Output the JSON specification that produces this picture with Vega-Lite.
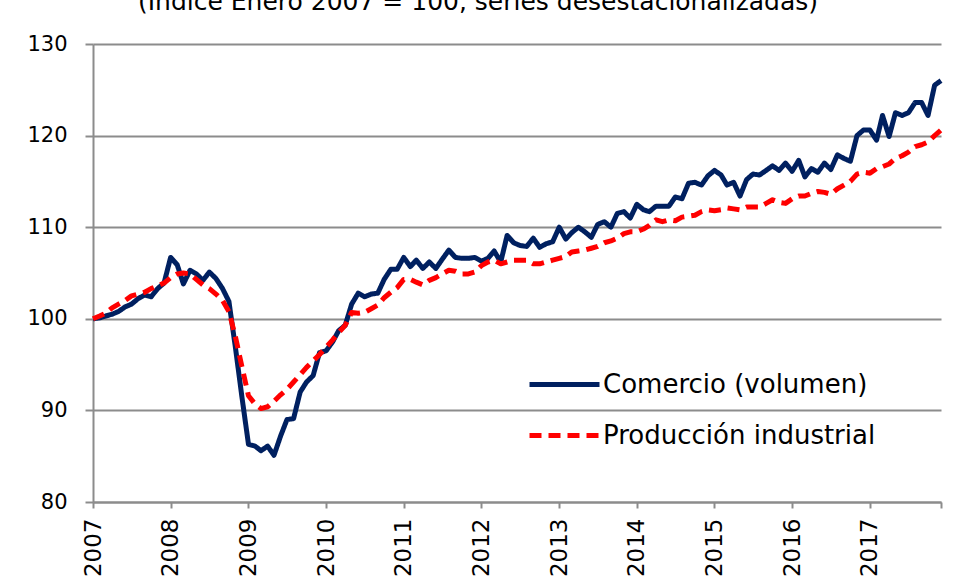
{
  "$schema": "https://vega.github.io/schema/vega-lite/v6.json",
  "width": 848,
  "height": 458,
  "autosize": {"type": "none"},
  "padding": {"left": 93, "top": 44, "right": 16, "bottom": 82},
  "background": "white",
  "title": {
    "text": "(Índice Enero 2007 = 100, series desestacionalizadas)",
    "anchor": "middle",
    "baseline": "alphabetic",
    "offset": -2,
    "dx": -39,
    "font": "DejaVu Sans",
    "fontSize": 25,
    "fontWeight": "normal",
    "color": "#000000"
  },
  "config": {
    "view": {"stroke": null},
    "font": "DejaVu Sans"
  },
  "data": {
    "values": [
      {"d":"2007-01-01","c":100.0,"p":100.0},{"d":"2007-02-01","c":100.1,"p":100.3},{"d":"2007-03-01","c":100.3,"p":100.6},{"d":"2007-04-01","c":100.5,"p":101.2},{"d":"2007-05-01","c":100.8,"p":101.6},{"d":"2007-06-01","c":101.3,"p":102.0},{"d":"2007-07-01","c":101.6,"p":102.5},{"d":"2007-08-01","c":102.2,"p":102.7},{"d":"2007-09-01","c":102.6,"p":102.9},{"d":"2007-10-01","c":102.4,"p":103.3},{"d":"2007-11-01","c":103.3,"p":103.6},{"d":"2007-12-01","c":103.9,"p":103.9},
      {"d":"2008-01-01","c":106.7,"p":104.5},{"d":"2008-02-01","c":105.9,"p":104.9},{"d":"2008-03-01","c":103.8,"p":105.0},{"d":"2008-04-01","c":105.3,"p":104.9},{"d":"2008-05-01","c":104.9,"p":104.3},{"d":"2008-06-01","c":104.2,"p":103.7},{"d":"2008-07-01","c":105.1,"p":103.3},{"d":"2008-08-01","c":104.4,"p":102.7},{"d":"2008-09-01","c":103.3,"p":102.0},{"d":"2008-10-01","c":101.9,"p":100.8},{"d":"2008-11-01","c":96.8,"p":98.0},{"d":"2008-12-01","c":91.5,"p":94.8},
      {"d":"2009-01-01","c":86.3,"p":91.6},{"d":"2009-02-01","c":86.1,"p":90.7},{"d":"2009-03-01","c":85.6,"p":90.2},{"d":"2009-04-01","c":86.1,"p":90.4},{"d":"2009-05-01","c":85.1,"p":91.0},{"d":"2009-06-01","c":87.2,"p":91.7},{"d":"2009-07-01","c":89.0,"p":92.3},{"d":"2009-08-01","c":89.1,"p":93.1},{"d":"2009-09-01","c":92.0,"p":93.9},{"d":"2009-10-01","c":93.1,"p":94.7},{"d":"2009-11-01","c":93.8,"p":95.4},{"d":"2009-12-01","c":96.3,"p":96.1},
      {"d":"2010-01-01","c":96.5,"p":96.9},{"d":"2010-02-01","c":97.5,"p":97.7},{"d":"2010-03-01","c":98.7,"p":98.5},{"d":"2010-04-01","c":99.3,"p":99.3},{"d":"2010-05-01","c":101.6,"p":100.7},{"d":"2010-06-01","c":102.8,"p":100.6},{"d":"2010-07-01","c":102.4,"p":100.7},{"d":"2010-08-01","c":102.7,"p":101.1},{"d":"2010-09-01","c":102.8,"p":101.5},{"d":"2010-10-01","c":104.3,"p":102.3},{"d":"2010-11-01","c":105.4,"p":102.9},{"d":"2010-12-01","c":105.4,"p":103.4},
      {"d":"2011-01-01","c":106.7,"p":104.3},{"d":"2011-02-01","c":105.7,"p":104.3},{"d":"2011-03-01","c":106.4,"p":104.0},{"d":"2011-04-01","c":105.5,"p":103.7},{"d":"2011-05-01","c":106.2,"p":104.2},{"d":"2011-06-01","c":105.5,"p":104.5},{"d":"2011-07-01","c":106.5,"p":104.9},{"d":"2011-08-01","c":107.5,"p":105.3},{"d":"2011-09-01","c":106.7,"p":105.2},{"d":"2011-10-01","c":106.6,"p":104.9},{"d":"2011-11-01","c":106.6,"p":104.9},{"d":"2011-12-01","c":106.7,"p":105.1},
      {"d":"2012-01-01","c":106.3,"p":105.8},{"d":"2012-02-01","c":106.6,"p":106.2},{"d":"2012-03-01","c":107.4,"p":106.4},{"d":"2012-04-01","c":106.2,"p":106.0},{"d":"2012-05-01","c":109.1,"p":106.2},{"d":"2012-06-01","c":108.3,"p":106.4},{"d":"2012-07-01","c":108.0,"p":106.4},{"d":"2012-08-01","c":107.9,"p":106.4},{"d":"2012-09-01","c":108.8,"p":106.0},{"d":"2012-10-01","c":107.8,"p":106.0},{"d":"2012-11-01","c":108.2,"p":106.2},{"d":"2012-12-01","c":108.4,"p":106.4},
      {"d":"2013-01-01","c":110.0,"p":106.6},{"d":"2013-02-01","c":108.7,"p":106.8},{"d":"2013-03-01","c":109.4,"p":107.3},{"d":"2013-04-01","c":110.0,"p":107.4},{"d":"2013-05-01","c":109.5,"p":107.5},{"d":"2013-06-01","c":108.9,"p":107.7},{"d":"2013-07-01","c":110.3,"p":107.9},{"d":"2013-08-01","c":110.6,"p":108.3},{"d":"2013-09-01","c":110.0,"p":108.5},{"d":"2013-10-01","c":111.5,"p":108.8},{"d":"2013-11-01","c":111.7,"p":109.3},{"d":"2013-12-01","c":111.0,"p":109.5},
      {"d":"2014-01-01","c":112.5,"p":109.5},{"d":"2014-02-01","c":111.9,"p":109.8},{"d":"2014-03-01","c":111.7,"p":110.2},{"d":"2014-04-01","c":112.3,"p":110.8},{"d":"2014-05-01","c":112.3,"p":110.6},{"d":"2014-06-01","c":112.3,"p":110.8},{"d":"2014-07-01","c":113.3,"p":110.7},{"d":"2014-08-01","c":113.1,"p":111.1},{"d":"2014-09-01","c":114.8,"p":111.2},{"d":"2014-10-01","c":114.9,"p":111.3},{"d":"2014-11-01","c":114.6,"p":111.7},{"d":"2014-12-01","c":115.6,"p":111.9},
      {"d":"2015-01-01","c":116.2,"p":111.8},{"d":"2015-02-01","c":115.7,"p":111.9},{"d":"2015-03-01","c":114.6,"p":112.1},{"d":"2015-04-01","c":114.9,"p":112.0},{"d":"2015-05-01","c":113.4,"p":111.9},{"d":"2015-06-01","c":115.2,"p":112.2},{"d":"2015-07-01","c":115.8,"p":112.2},{"d":"2015-08-01","c":115.7,"p":112.2},{"d":"2015-09-01","c":116.2,"p":112.6},{"d":"2015-10-01","c":116.7,"p":113.0},{"d":"2015-11-01","c":116.2,"p":112.7},{"d":"2015-12-01","c":117.0,"p":112.6},
      {"d":"2016-01-01","c":116.1,"p":113.1},{"d":"2016-02-01","c":117.3,"p":113.4},{"d":"2016-03-01","c":115.5,"p":113.4},{"d":"2016-04-01","c":116.4,"p":113.7},{"d":"2016-05-01","c":116.0,"p":113.9},{"d":"2016-06-01","c":117.0,"p":113.8},{"d":"2016-07-01","c":116.3,"p":113.6},{"d":"2016-08-01","c":117.9,"p":114.2},{"d":"2016-09-01","c":117.5,"p":114.6},{"d":"2016-10-01","c":117.2,"p":115.0},{"d":"2016-11-01","c":120.0,"p":115.8},{"d":"2016-12-01","c":120.6,"p":116.0},
      {"d":"2017-01-01","c":120.6,"p":115.9},{"d":"2017-02-01","c":119.5,"p":116.4},{"d":"2017-03-01","c":122.2,"p":116.6},{"d":"2017-04-01","c":119.9,"p":116.9},{"d":"2017-05-01","c":122.5,"p":117.5},{"d":"2017-06-01","c":122.2,"p":117.8},{"d":"2017-07-01","c":122.5,"p":118.2},{"d":"2017-08-01","c":123.6,"p":118.8},{"d":"2017-09-01","c":123.6,"p":119.0},{"d":"2017-10-01","c":122.2,"p":119.3},{"d":"2017-11-01","c":125.5,"p":120.0},{"d":"2017-12-01","c":126.0,"p":120.6}
    ]
  },
  "transform": [{"fold": ["c", "p"], "as": ["serie", "valor"]}],
  "mark": {"type": "line", "strokeWidth": 5, "strokeJoin": "round", "strokeCap": "butt", "clip": false},
  "encoding": {
    "x": {
      "field": "d",
      "type": "temporal",
      "scale": {
        "type": "utc",
        "domain": [{"year": 2007, "month": 1, "date": 1, "utc": true}, {"year": 2017, "month": 12, "date": 1, "utc": true}]
      },
      "axis": {
        "title": null,
        "grid": false,
        "values": [
          {"year": 2007, "month": 1, "date": 1, "utc": true},
          {"year": 2008, "month": 1, "date": 1, "utc": true},
          {"year": 2009, "month": 1, "date": 1, "utc": true},
          {"year": 2010, "month": 1, "date": 1, "utc": true},
          {"year": 2011, "month": 1, "date": 1, "utc": true},
          {"year": 2012, "month": 1, "date": 1, "utc": true},
          {"year": 2013, "month": 1, "date": 1, "utc": true},
          {"year": 2014, "month": 1, "date": 1, "utc": true},
          {"year": 2015, "month": 1, "date": 1, "utc": true},
          {"year": 2016, "month": 1, "date": 1, "utc": true},
          {"year": 2017, "month": 1, "date": 1, "utc": true},
          {"year": 2017, "month": 12, "date": 1, "utc": true}
        ],
        "labelExpr": "utcmonth(datum.value) == 11 ? '' : utcFormat(datum.value, '%Y')",
        "labelAngle": -90,
        "labelAlign": "right",
        "labelBaseline": "middle",
        "labelPadding": 10,
        "labelFont": "DejaVu Sans",
        "labelFontSize": 23,
        "labelColor": "#000000",
        "labelOverlap": false,
        "labelFlush": false,
        "tickSize": 6,
        "tickWidth": 2,
        "tickColor": "#8c8c8c",
        "domainColor": "#8c8c8c",
        "domainWidth": 2
      }
    },
    "y": {
      "field": "valor",
      "type": "quantitative",
      "scale": {"domain": [80, 130], "zero": false, "nice": false},
      "axis": {
        "title": null,
        "values": [80, 90, 100, 110, 120, 130],
        "grid": true,
        "gridColor": "#8c8c8c",
        "gridWidth": 2,
        "gridOpacity": 1,
        "tickSize": 8,
        "tickWidth": 2,
        "tickColor": "#8c8c8c",
        "domainColor": "#8c8c8c",
        "domainWidth": 2,
        "labelPadding": 18,
        "labelFont": "DejaVu Sans",
        "labelFontSize": 21,
        "labelColor": "#000000"
      }
    },
    "color": {
      "field": "serie",
      "type": "nominal",
      "scale": {"domain": ["c", "p"], "range": ["#002060", "#ff0000"]},
      "legend": {
        "title": null,
        "orient": "none",
        "legendX": 434,
        "legendY": 303,
        "symbolType": "stroke",
        "symbolSize": 4900,
        "symbolStrokeWidth": 5,
        "labelOffset": 1,
        "labelFont": "DejaVu Sans",
        "labelFontSize": 26,
        "labelLimit": 500,
        "labelColor": "#000000",
        "rowPadding": -6,
        "padding": 0,
        "labelExpr": "datum.label == 'c' ? 'Comercio (volumen)' : 'Producción industrial'"
      }
    },
    "strokeDash": {
      "field": "serie",
      "type": "nominal",
      "scale": {"domain": ["c", "p"], "range": [[1, 0], [12, 7]]},
      "legend": {
        "title": null,
        "orient": "none",
        "legendX": 434,
        "legendY": 303,
        "symbolType": "stroke",
        "symbolSize": 4900,
        "symbolStrokeWidth": 5,
        "labelOffset": 1,
        "labelFont": "DejaVu Sans",
        "labelFontSize": 26,
        "labelLimit": 500,
        "labelColor": "#000000",
        "rowPadding": -6,
        "padding": 0,
        "labelExpr": "datum.label == 'c' ? 'Comercio (volumen)' : 'Producción industrial'"
      }
    }
  }
}
